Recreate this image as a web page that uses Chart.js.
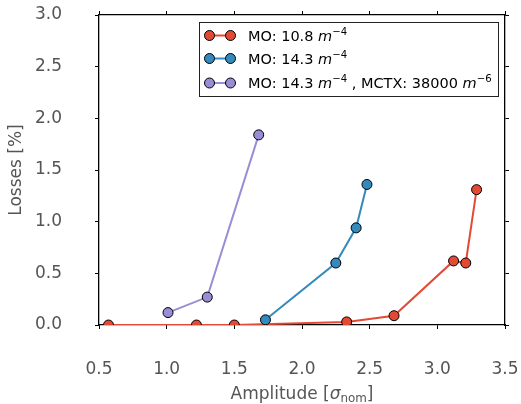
<!DOCTYPE html>
<html>
<head>
<meta charset="utf-8">
<script src="https://cdn.jsdelivr.net/npm/chart.js@4.4.0/dist/chart.umd.min.js"></script>
<style>
  html, body { margin: 0; padding: 0; background: #fff; }
  #wrap { width: 521px; height: 404px; }
</style>
</head>
<body>
<div id="wrap"><canvas id="lossChart" width="521" height="404"></canvas></div>
<script>
// =================== DATA ===================
const moLowAmp   = [0.57, 1.22, 1.50, 2.33, 2.68, 3.12, 3.21, 3.29];
const moLowLoss  = [0.00, 0.00, 0.00, 0.03, 0.09, 0.62, 0.60, 1.31];
const moHighAmp  = [1.73, 2.25, 2.40, 2.48];
const moHighLoss = [0.05, 0.60, 0.94, 1.36];
const mctxAmp    = [1.01, 1.30, 1.68];
const mctxLoss   = [0.12, 0.27, 1.84];

const xTicks = [0.5, 1.0, 1.5, 2.0, 2.5, 3.0, 3.5];
const yTicks = [0.0, 0.5, 1.0, 1.5, 2.0, 2.5, 3.0];

// legend labels: pieces of text, some italic / superscript (mathtext style)
const legendLabels = [
  [['MO: 10.8 '], ['m', 'it'], ['\u22124', 'sup']],
  [['MO: 14.3 '], ['m', 'it'], ['\u22124', 'sup']],
  [['MO: 14.3 '], ['m', 'it'], ['\u22124', 'sup'], [' , MCTX: 38000 '], ['m', 'it'], ['\u22126', 'sup']]
];
const colors = ['#E24A33', '#348ABD', '#988ED5'];

const FONT = 'DejaVu Sans';
const GREY = '#555555';

const toPoints = (xs, ys) => xs.map((x, i) => ({ x: x, y: ys[i] }));

// =================== TEXT HELPERS ===================
function drawPieces(ctx, pieces, x, y, size) {
  pieces.forEach(([t, kind]) => {
    let s = size, dy = 0, style = '';
    if (kind === 'it') style = 'italic ';
    if (kind === 'sup') { s = size * 0.7; dy = -size * 0.42; }
    if (kind === 'sub') { s = size * 0.7; dy = size * 0.2; }
    ctx.font = style + s + 'px "' + FONT + '"';
    ctx.fillText(t, x, y + dy);
    x += ctx.measureText(t).width;
  });
  return x;
}
function piecesWidth(ctx, pieces, size) {
  let w = 0;
  pieces.forEach(([t, kind]) => {
    let s = (kind === 'sup' || kind === 'sub') ? size * 0.7 : size;
    ctx.font = (kind === 'it' ? 'italic ' : '') + s + 'px "' + FONT + '"';
    w += ctx.measureText(t).width;
  });
  return w;
}

// =================== DECORATION PLUGIN ===================
const decor = {
  id: 'decor',
  afterDraw(chart) {
    const ctx = chart.ctx;
    const area = chart.chartArea;
    ctx.save();

    // x title: Amplitude [σ_nom]
    const xt = [['Amplitude ['], ['\u03c3', 'it'], ['nom', 'sub'], [']']];
    ctx.fillStyle = GREY;
    ctx.textBaseline = 'alphabetic';
    ctx.textAlign = 'left';
    const w = piecesWidth(ctx, xt, 17);
    drawPieces(ctx, xt, (area.left + area.right) / 2 - w / 2, 399, 17);

    // y title
    ctx.save();
    ctx.translate(21, (area.top + area.bottom) / 2);
    ctx.rotate(-Math.PI / 2);
    ctx.textAlign = 'center';
    ctx.font = '17px "' + FONT + '"';
    ctx.fillText('Losses [%]', 0, 0);
    ctx.restore();

    // legend box
    ctx.fillStyle = '#fff';
    ctx.strokeStyle = '#222';
    ctx.lineWidth = 1;
    ctx.fillRect(199.5, 22.5, 299, 74);
    ctx.strokeRect(199.5, 22.5, 299, 74);

    const rows = [35.5, 58.5, 83];
    legendLabels.forEach((pieces, i) => {
      const y = rows[i];
      ctx.strokeStyle = colors[i];
      ctx.lineWidth = 2;
      ctx.beginPath();
      ctx.moveTo(209.5, y);
      ctx.lineTo(230.5, y);
      ctx.stroke();
      [209.5, 230.5].forEach(cx => {
        ctx.beginPath();
        ctx.arc(cx, y, 5, 0, Math.PI * 2);
        ctx.fillStyle = colors[i];
        ctx.fill();
        ctx.lineWidth = 1;
        ctx.strokeStyle = '#000';
        ctx.stroke();
      });
      ctx.fillStyle = '#000';
      ctx.textAlign = 'left';
      drawPieces(ctx, pieces, 248, y + 5.2, 14.5);
    });

    ctx.restore();
  }
};

// =================== CHART ===================
const tickFont = { family: FONT, size: 17 };
const gridOpts = { drawOnChartArea: false, tickLength: 4, color: '#000', lineWidth: 1 };
const borderOpts = { color: '#000', width: 1.3 };

// force a fixed scale size and drop the label overhang padding
function fixSize(prop, val) {
  return s => {
    s[prop] = val;
    s.paddingLeft = s.paddingRight = s.paddingTop = s.paddingBottom = 0;
  };
}

function ds(label, xs, ys, i) {
  return {
    label: label,
    data: toPoints(xs, ys),
    borderColor: colors[i],
    backgroundColor: colors[i],
    borderWidth: 2,
    pointRadius: 5,
    pointBorderColor: '#000',
    pointBorderWidth: 1,
    pointBackgroundColor: colors[i],
    tension: 0,
    clip: 0,
    order: 3 - i
  };
}

new Chart(document.getElementById('lossChart'), {
  type: 'line',
  data: {
    datasets: [
      ds('MO: 10.8', moLowAmp, moLowLoss, 0),
      ds('MO: 14.3', moHighAmp, moHighLoss, 1),
      ds('MO: 14.3, MCTX: 38000', mctxAmp, mctxLoss, 2)
    ]
  },
  options: {
    responsive: false,
    animation: false,
    devicePixelRatio: 1,
    layout: { padding: 0 },
    plugins: { legend: { display: false }, tooltip: { enabled: false } },
    scales: {
      x: {
        type: 'linear', position: 'bottom',
        min: xTicks[0], max: xTicks[xTicks.length - 1],
        afterBuildTicks: s => { s.ticks = xTicks.map(v => ({ value: v })); },
        afterFit: fixSize('height', 79),
        ticks: { color: GREY, font: tickFont, padding: 30, maxRotation: 0, callback: v => v.toFixed(1) },
        grid: gridOpts, border: borderOpts
      },
      x2: {
        type: 'linear', position: 'top',
        min: xTicks[0], max: xTicks[xTicks.length - 1],
        afterBuildTicks: s => { s.ticks = xTicks.map(v => ({ value: v })); },
        afterFit: fixSize('height', 15),
        ticks: { display: false },
        grid: gridOpts, border: borderOpts
      },
      y: {
        type: 'linear', position: 'left',
        min: yTicks[0], max: yTicks[yTicks.length - 1],
        afterBuildTicks: s => { s.ticks = yTicks.map(v => ({ value: v })); },
        afterFit: fixSize('width', 99),
        ticks: { color: GREY, font: tickFont, padding: 33, callback: v => v.toFixed(1) },
        grid: gridOpts, border: borderOpts
      },
      y2: {
        type: 'linear', position: 'right',
        min: yTicks[0], max: yTicks[yTicks.length - 1],
        afterBuildTicks: s => { s.ticks = yTicks.map(v => ({ value: v })); },
        afterFit: fixSize('width', 16),
        ticks: { display: false },
        grid: gridOpts, border: borderOpts
      }
    }
  },
  plugins: [decor]
});
</script>
</body>
</html>
